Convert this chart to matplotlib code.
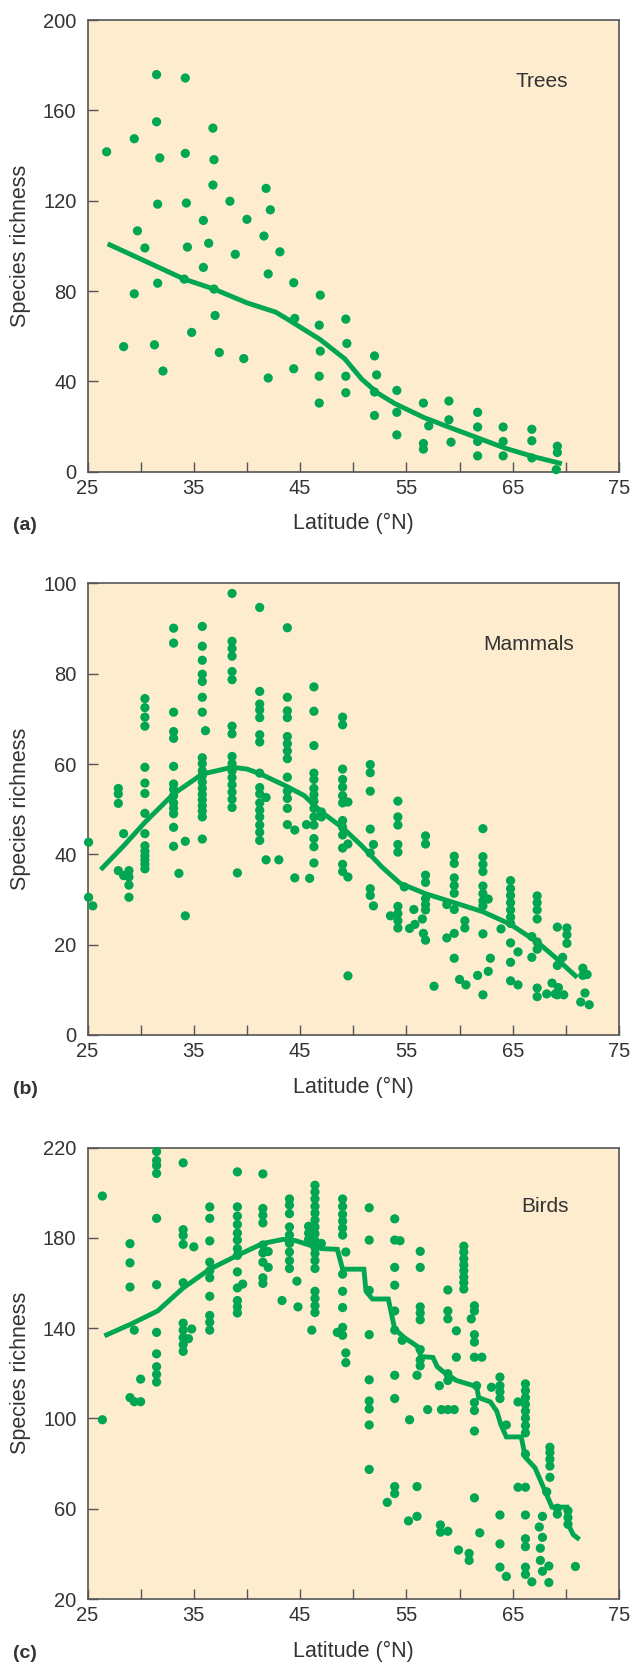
import matplotlib
matplotlib.use("Agg")
import matplotlib.pyplot as plt

# ---- Panel (a): trees ----
trees_lat = [26.8, 28.4, 29.4, 29.4, 29.7, 30.4, 31.5, 31.5, 31.8, 31.6, 31.6, 31.3, 32.1,
             34.2, 34.2, 34.3, 34.4, 34.1, 34.8, 36.8, 36.9, 36.8, 35.9, 36.4, 35.9, 36.9,
             37.0, 37.4, 38.4, 38.9, 40.0, 39.7, 41.8, 42.2, 41.6, 43.1, 42.0, 42.0, 44.4,
             44.5, 44.4, 46.9, 46.8, 46.9, 46.8, 46.8, 49.3, 49.4, 49.3, 49.3, 52.0, 52.2,
             52.0, 52.0, 54.1, 54.1, 54.1, 56.6, 57.1, 56.6, 56.6, 59.0, 59.0, 59.2, 61.7,
             61.7, 61.7, 61.7, 64.1, 64.1, 64.1, 66.8, 66.8, 66.8, 69.2, 69.2, 69.1]
trees_rich = [141.7, 55.4, 147.5, 78.8, 106.7, 99.1, 175.9, 155, 139, 118.5, 83.5, 56.2, 44.6,
              174.4, 141, 119, 99.5, 85.3, 61.7, 152.2, 138.2, 127, 111.3, 101.2, 90.5, 80.9,
              69.2, 52.8, 119.8, 96.3, 111.8, 50.1, 125.5, 116, 104.4, 97.4, 87.6, 41.5, 83.7,
              67.9, 45.6, 78.2, 64.9, 53.4, 42.3, 30.4, 67.6, 56.8, 42.3, 35, 51.3, 42.9,
              35.3, 24.9, 36, 26.3, 16.3, 30.4, 20.3, 12.5, 10, 31.3, 23, 13.1, 26.3,
              19.8, 13.4, 7, 19.8, 13.4, 7, 18.8, 13.7, 6.1, 11.3, 8.5, 0.9]
trees_fit_lat = [27.1, 34.1, 36.9, 40.0, 42.7, 43.8, 46.9, 49.2, 50.8, 52.3, 53.9, 56.6,
                 59.3, 61.7, 64.3, 67.0, 69.4]
trees_fit_rich = [100.5, 85.3, 80.9, 74.8, 70.7, 67.6, 58.5, 50.0, 41.0, 34.8, 30.2, 24.1,
                  19.2, 15.0, 10.4, 6.6, 3.8]

# ---- Panel (b): mammals ----
mammals_lat = (
    [25.1, 25.1, 25.5]
    + [27.9] * 4 + [28.4] * 2 + [28.9] * 4
    + [30.4] * 15
    + [33.1] * 14 + [34.2] * 2 + [33.6]
    + [35.8] * 19 + [36.1]
    + [38.6] * 16 + [39.1]
    + [41.2] * 16 + [41.8] * 2 + [43.0]
    + [43.8] * 13 + [44.5] * 2
    + [46.3] * 14 + [45.6, 45.9, 47.0, 47.0]
    + [49.0] * 13 + [49.5] * 4
    + [51.6] * 7 + [51.9] * 2
    + [54.2] * 9 + [53.5, 54.8]
    + [56.8] * 8 + [55.7, 56.5, 55.8, 55.3, 56.6]
    + [59.5] * 8 + [58.8, 58.8, 60.0, 60.6, 60.5, 60.5, 57.6]
    + [62.2] * 10 + [62.7, 62.9, 62.7, 61.7, 63.9]
    + [64.8] * 10 + [65.5, 65.5]
    + [67.3] * 8 + [66.8, 66.8, 68.2, 68.7, 69.0, 69.3, 69.2, 69.2, 69.2,
                    70.1, 70.1, 70.1, 69.7, 69.8]
    + [71.6, 71.6, 72.0, 71.8, 71.4, 72.2]
)
mammals_rich = (
    [42.7, 30.5, 28.6]
    + [54.6, 53.4, 51.3, 36.4, 44.6, 35.3, 36.4, 35.0, 33.2, 30.5]
    + [74.5, 72.5, 70.4, 68.4, 59.3, 55.8, 53.5, 49.1, 44.6, 41.9, 40.7, 39.7, 38.8, 37.8, 36.8]
    + [90.1, 86.8, 71.5, 67.2, 65.7, 59.5, 55.6, 54.4, 53.0, 51.4, 50.2, 49.0, 46.0, 41.8,
       42.9, 26.4, 35.8]
    + [90.5, 86.1, 83.0, 79.9, 78.3, 74.8, 71.5, 61.4, 60.1, 58.5, 57.4, 56.0, 54.6, 53.3,
       52.1, 50.8, 49.6, 48.3, 43.4, 67.4]
    + [97.8, 87.2, 85.6, 83.9, 80.5, 78.7, 68.4, 66.7, 61.7, 60.1, 58.5, 57.0, 55.4, 53.8,
       52.2, 50.4, 35.9]
    + [94.7, 76.1, 73.3, 72.0, 70.3, 66.5, 64.9, 58.0, 54.8, 53.4, 51.4, 49.8, 48.3, 46.5,
       44.9, 43.1, 52.6, 38.8, 38.8]
    + [90.2, 74.8, 71.8, 70.3, 66.1, 64.5, 62.9, 61.2, 57.1, 54.0, 52.4, 50.2, 46.6, 45.4, 34.8]
    + [77.1, 71.7, 64.1, 58.0, 56.6, 54.6, 53.2, 51.8, 50.2, 48.3, 46.5, 43.5, 41.7, 38.1,
       46.6, 34.7, 49.4, 48.3]
    + [70.4, 68.7, 58.9, 56.6, 54.9, 53.0, 51.4, 47.5, 46.0, 44.3, 41.4, 37.8, 36.2,
       51.6, 42.3, 35.0, 13.1]
    + [59.9, 58.1, 54.0, 45.6, 40.3, 32.4, 30.9, 42.2, 28.6]
    + [51.8, 48.3, 46.5, 42.2, 40.5, 28.5, 26.9, 25.3, 23.7, 26.4, 32.8]
    + [44.1, 42.3, 35.4, 33.8, 30.2, 28.9, 27.7, 21.0, 27.8, 25.7, 24.5, 23.6, 22.5]
    + [39.6, 38.0, 34.8, 33.1, 31.4, 27.8, 22.5, 17.0, 28.9, 21.5, 12.3, 11.1, 25.3, 23.7, 10.8]
    + [45.7, 39.5, 37.8, 36.2, 33.0, 31.3, 29.7, 28.6, 22.4, 8.9, 30.1, 17.0, 14.1, 13.2, 23.5]
    + [34.2, 32.4, 30.9, 29.3, 27.7, 26.1, 24.7, 20.4, 16.1, 12.0, 18.4, 11.1]
    + [30.8, 29.3, 27.7, 25.7, 20.6, 19.0, 10.4, 8.5, 21.8, 17.2, 9.1, 11.5, 9.1, 10.5,
       23.9, 15.4, 8.9, 23.7, 22.2, 20.3, 17.2, 8.9]
    + [14.8, 13.2, 13.4, 9.3, 7.3, 6.7]
)
mammals_fit_lat = [26.4, 28.4, 30.4, 33.1, 35.8, 38.6, 40.0, 41.2, 43.8, 45.4, 47.0, 49.0,
                   50.8, 52.7, 54.4, 56.8, 59.5, 62.2, 64.8, 67.3, 68.9, 70.9]
mammals_fit_rich = [37.0, 41.9, 47.1, 53.4, 57.8, 59.3, 58.9, 57.9, 55.0, 53.0, 49.4, 45.9,
                    41.9, 37.2, 33.6, 31.3, 29.3, 27.3, 24.5, 20.6, 17.4, 13.1]

# ---- Panel (c): birds ----
birds_lat = (
    [26.4, 26.4]
    + [29.0] * 4 + [29.4, 29.4, 30.0, 30.0]
    + [31.5] * 11
    + [34.0] * 10 + [35.0, 34.8, 34.5]
    + [36.5] * 10
    + [39.1] * 13 + [39.6]
    + [41.5] * 9 + [42.0, 42.0, 43.3, 44.7, 44.8]
    + [44.0] * 9
    + [45.8] * 3 + [46.1]
    + [46.4] * 17 + [47.0]
    + [49.0] * 11 + [49.3, 49.3, 49.3, 48.5]
    + [51.5] * 9
    + [53.9] * 10 + [54.4, 53.2, 55.3, 55.2, 56.0, 56.0, 56.0, 54.6]
    + [56.3] * 8 + [57.0]
    + [58.9] * 7 + [58.1, 58.2, 58.2, 58.3, 59.5, 59.7, 59.7, 59.9, 60.9, 60.9]
    + [60.4] * 8
    + [61.4] * 9 + [61.1, 61.9, 62.1, 61.6, 63.0]
    + [63.8] * 7 + [64.4, 64.4]
    + [66.2] * 15 + [65.5, 65.5, 66.8]
    + [68.5] * 5 + [68.2, 67.8, 67.5, 67.8, 67.6, 67.6, 67.8, 68.4, 68.4, 69.2, 69.2]
    + [70.2] * 3 + [70.9]
)
birds_rich = (
    [198.5, 99.4]
    + [177.4, 168.9, 158.2, 109.2, 107.4, 139.1, 107.4, 117.4]
    + [218.2, 214.2, 212.0, 208.5, 188.6, 159.2, 138.1, 128.6, 122.9, 119.5, 116.1]
    + [213.2, 183.6, 181.0, 177.1, 160.1, 142.2, 139.1, 135.8, 132.7, 129.7, 176.0, 139.6, 135.3]
    + [193.7, 188.6, 178.6, 169.2, 165.4, 162.3, 154.1, 145.6, 142.6, 139.1]
    + [209.2, 193.7, 189.6, 185.9, 182.1, 179.0, 175.2, 172.2, 164.9, 157.8, 152.2, 149.4,
       146.7, 159.5]
    + [208.3, 193.0, 190.0, 186.6, 176.8, 173.3, 169.2, 162.3, 159.8, 173.9, 166.9, 152.2,
       160.8, 149.4]
    + [197.2, 194.5, 190.7, 184.8, 181.2, 177.5, 173.7, 169.9, 166.4]
    + [185.1, 182.1, 179.3, 139.1]
    + [203.3, 200.3, 197.2, 193.9, 190.9, 187.9, 184.8, 181.8, 178.7, 175.7, 173.0, 169.9,
       166.4, 156.3, 153.2, 149.9, 146.9, 177.5]
    + [197.2, 193.9, 190.4, 187.4, 184.3, 181.2, 163.9, 156.3, 149.1, 140.3, 136.8,
       173.7, 129.0, 124.7, 138.1]
    + [193.3, 179.0, 156.7, 137.1, 117.1, 107.7, 104.2, 97.1, 77.4]
    + [188.4, 179.0, 166.9, 159.0, 147.6, 139.1, 119.1, 108.8, 69.8, 66.7,
       178.7, 62.8, 99.4, 54.6, 56.6, 119.1, 69.8, 134.6]
    + [174.0, 166.9, 149.4, 146.7, 143.7, 130.5, 125.9, 123.3, 103.9]
    + [156.9, 147.6, 144.1, 119.8, 116.8, 103.9, 50.0, 114.5, 52.8, 49.6, 103.9, 103.9,
       138.8, 127.1, 41.7, 40.2, 37.1]
    + [176.3, 173.7, 170.7, 168.0, 165.4, 162.6, 160.1, 157.3]
    + [149.9, 147.6, 137.1, 133.8, 127.1, 107.0, 103.5, 94.4, 64.8, 144.1, 49.3, 127.1,
       114.5, 113.8]
    + [118.3, 114.5, 111.8, 108.8, 57.2, 44.4, 34.1, 97.1, 30.0]
    + [115.3, 112.3, 109.2, 106.2, 103.2, 100.1, 96.8, 93.6, 84.2, 69.5, 57.2, 46.7, 43.2,
       34.1, 30.9, 107.3, 69.5, 27.6]
    + [87.2, 84.9, 81.9, 78.9, 73.9, 67.5, 56.6, 51.9, 47.3, 42.5, 37.1, 32.3, 34.6, 27.3,
       60.2, 57.6]
    + [59.1, 56.1, 53.1, 34.4]
)
birds_fit_lat = [26.8, 29.1, 31.6, 34.0, 36.5, 39.1, 41.5, 43.4, 44.6, 46.4, 47.0, 48.5,
                 49.0, 51.0, 51.2, 51.8, 53.3, 53.9, 54.8, 56.0, 56.4, 57.5, 57.9, 58.5,
                 59.7, 61.6, 61.8, 62.9, 63.5, 63.9, 64.4, 65.8, 66.2, 67.1, 68.0, 68.7,
                 70.1, 70.2, 70.7, 71.1]
birds_fit_rich = [137.0, 141.8, 147.6, 157.8, 166.1, 172.2, 177.5, 179.3, 178.7, 176.0,
                  175.2, 174.9, 166.1, 166.1, 156.3, 152.9, 152.9, 139.6, 135.8, 132.0,
                  127.4, 127.0, 122.9, 120.6, 116.8, 114.1, 109.2, 107.3, 103.2, 97.1,
                  91.8, 91.8, 82.7, 78.1, 68.3, 60.7, 60.7, 53.1, 48.5, 47.0]

panels = [
    ("(a)", "Trees", trees_lat, trees_rich, trees_fit_lat, trees_fit_rich,
     (0, 200), list(range(0, 201, 40)), (0.855, 0.865)),
    ("(b)", "Mammals", mammals_lat, mammals_rich, mammals_fit_lat, mammals_fit_rich,
     (0, 100), list(range(0, 101, 20)), (0.83, 0.865)),
    ("(c)", "Birds", birds_lat, birds_rich, birds_fit_lat, birds_fit_rich,
     (20, 220), list(range(20, 221, 40)), (0.86, 0.87)),
]

plt.rcParams['font.family'] = ['Liberation Sans', 'DejaVu Sans']
text_col = '#333333'
green = '#00a651'
bg = '#fdecce'
frame = '#555555'

W, H = 644, 1667
fig = plt.figure(figsize=(W / 100, H / 100), dpi=100)

ax_left, ax_w, ax_h = 87.5, 531.5, 451.5
ax_bottoms = [471.7, 1035.0, 1599.0]  # pixel row of each x-axis

for (tag, name, lat, rich, flat, frich, ylim, yticks, name_pos), bot in zip(panels, ax_bottoms):
    ax = fig.add_axes([ax_left / W, (H - bot) / H, ax_w / W, ax_h / H])
    ax.set_facecolor(bg)
    ax.scatter(lat, rich, s=44, color=green, edgecolors='none', zorder=3, clip_on=False)
    ax.plot(flat, frich, color=green, lw=3.5, zorder=4, solid_joinstyle='miter')

    ax.set_xlim(25, 75)
    ax.set_ylim(*ylim)
    ax.set_xticks(range(25, 76, 10))
    ax.set_xticks(range(30, 71, 10), minor=True)
    ax.set_yticks(yticks)
    ax.tick_params(axis='both', which='both', direction='in', length=7.5, width=1.0,
                   color=frame, labelcolor=text_col, labelsize=14.5)
    ax.tick_params(axis='x', which='both', pad=5)
    ax.tick_params(axis='y', which='both', pad=8)
    for sp in ax.spines.values():
        sp.set_color(frame)
        sp.set_linewidth(1.2)

    ax.set_xlabel("Latitude (°N)", fontsize=15.5, color=text_col)
    ax.xaxis.set_label_coords(0.5, -52 / ax_h)
    ax.xaxis.label.set_va('center')
    ax.set_ylabel("Species richness", fontsize=15.5, color=text_col)
    ax.yaxis.set_label_coords(-(ax_left - 21) / ax_w, 0.5)
    ax.yaxis.label.set_va('center')

    ax.text(name_pos[0], name_pos[1], name, transform=ax.transAxes, ha='center',
            va='center', fontsize=15, color=text_col)
    fig.text(13 / W, (H - bot - 54) / H, tag, ha='left', va='center', fontsize=14,
             fontweight='bold', color=text_col)

fig.savefig("out.png", dpi=100)
